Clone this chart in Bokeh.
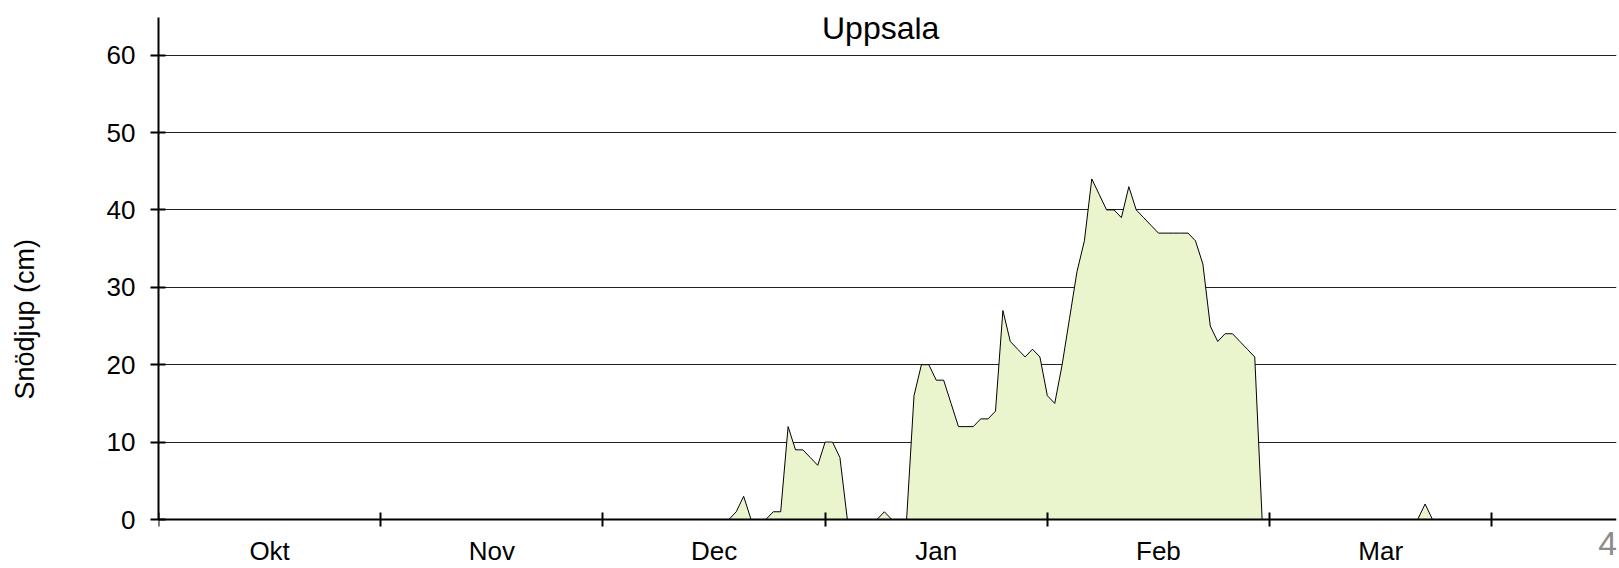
from bokeh.plotting import figure
from bokeh.models import Range1d, FixedTicker, Label
from bokeh.embed import file_html
from bokeh.resources import INLINE

# --- data ---------------------------------------------------------------
title_text = "Uppsala"
y_label = "Snödjup (cm)"
months = ["Okt", "Nov", "Dec", "Jan", "Feb", "Mar"]
month_bounds = [0, 30, 60, 90, 120, 150, 180]
month_mids = [15, 45, 75, 105, 135, 165]
y_ticks = [0, 10, 20, 30, 40, 50, 60]

days = [0,
        77, 78, 79, 80,
        82, 83, 84, 85, 86, 87, 88, 89, 90, 91, 92, 93,
        97, 98, 99,
        101, 102, 103, 104, 105, 106, 107, 108, 109, 110, 111, 112, 113,
        114, 115, 116, 117, 118, 119, 120, 121, 122, 123, 124, 125, 126,
        127, 128, 129, 130, 131, 132, 133, 134, 135, 136, 137, 138, 139,
        140, 141, 142, 143, 144, 145, 146, 147, 148, 149,
        170, 171, 172,
        196]
depth = [0,
         0, 1, 3, 0,
         0, 1, 1, 12, 9, 9, 8, 7, 10, 10, 8, 0,
         0, 1, 0,
         0, 16, 20, 20, 18, 18, 15, 12, 12, 12, 13, 13, 14,
         27, 23, 22, 21, 22, 21, 16, 15, 20, 26, 32, 36, 44,
         42, 40, 40, 39, 43, 40, 39, 38, 37, 37, 37, 37, 37,
         36, 33, 25, 23, 24, 24, 23, 22, 21, 0,
         0, 2, 0,
         0]

corner_note = "4"
corner_note_x = 195.65

# --- figure -------------------------------------------------------------
FONT = "Liberation Sans"
W, H = 1619, 568
left, right, top = 158, 3, 17
axis_px_from_bottom = 49
px_per_day = 7.407
px_per_cm = 7.74
x_end = (W - left - right) / px_per_day
y_end = (H - top - axis_px_from_bottom) / px_per_cm
y_start = -axis_px_from_bottom / px_per_cm

p = figure(width=W, height=H, output_backend="svg", toolbar_location=None,
           x_range=Range1d(0, x_end), y_range=Range1d(y_start, y_end),
           min_border_left=left, min_border_right=right,
           min_border_top=top, min_border_bottom=0)
p.outline_line_color = None
p.background_fill_color = "white"
p.border_fill_color = "white"

p.ygrid.ticker = FixedTicker(ticks=[t for t in y_ticks if t > 0])
p.ygrid.grid_line_color = "#222222"
p.ygrid.grid_line_width = 1
p.ygrid.bounds = (0, y_end)
p.xgrid.visible = False

p.varea(x=days, y1=0, y2=depth, fill_color="#EBF5CD")
p.line(x=days, y=depth, line_color="black", line_width=1)

# x axis pinned at depth 0: minor ticks at month bounds, labels at month centres
xa = p.xaxis[0]
xa.fixed_location = 0
xa.bounds = (0, x_end)
xa.ticker = FixedTicker(ticks=month_mids, minor_ticks=month_bounds)
xa.major_label_overrides = {m: lab for m, lab in zip(month_mids, months)}
xa.major_tick_in = 0
xa.major_tick_out = 0
xa.minor_tick_in = 7
xa.minor_tick_out = 7
xa.minor_tick_line_width = 2
xa.minor_tick_line_color = "black"
xa.axis_line_width = 2
xa.axis_line_color = "black"
xa.major_label_standoff = 9
xa.major_label_text_font = FONT
xa.major_label_text_font_size = "26px"
xa.major_label_text_color = "black"

ya = p.yaxis[0]
ya.bounds = (0, y_end)
ya.ticker = FixedTicker(ticks=y_ticks, minor_ticks=[])
ya.major_tick_in = 7
ya.major_tick_out = 8
ya.major_tick_line_width = 2
ya.major_tick_line_color = "black"
ya.axis_line_width = 2
ya.axis_line_color = "black"
ya.major_label_standoff = 15
ya.major_label_text_font = FONT
ya.major_label_text_font_size = "26px"
ya.major_label_text_color = "black"
# the axis title sits lower than the frame centre: pad its far end with
# non-breaking spaces so the visible words shift down
ya.axis_label = y_label + "\u00a0" * 7
ya.axis_label_text_font = FONT
ya.axis_label_text_font_size = "27px"
ya.axis_label_text_font_style = "normal"
ya.axis_label_text_color = "black"
ya.axis_label_standoff = 64

p.add_layout(Label(x=97.5, y=63.5, text=title_text, text_font=FONT,
                   text_font_size="32px", text_align="center",
                   text_baseline="middle", text_color="black"))
p.add_layout(Label(x=corner_note_x, y=-3.1, text=corner_note, text_font=FONT,
                   text_font_size="34px", text_align="center",
                   text_baseline="middle", text_color="#8c8c8c"))

open("out.html", "w").write(file_html(p, INLINE))
